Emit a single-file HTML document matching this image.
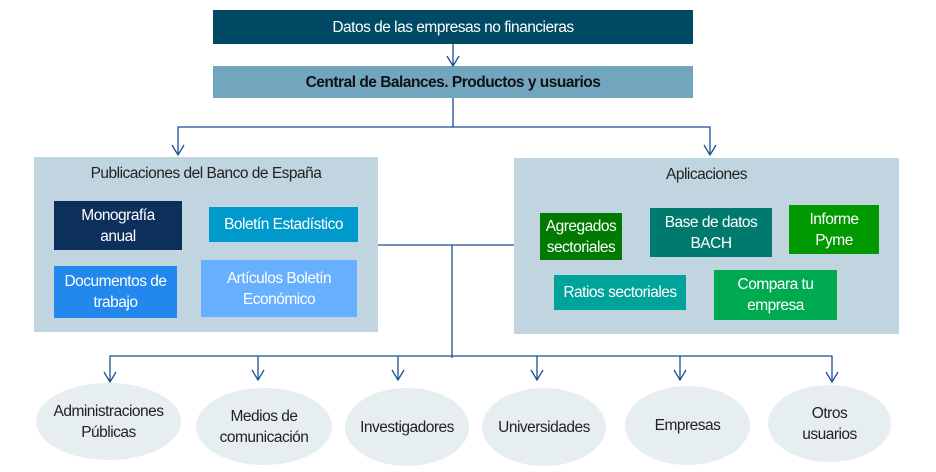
<!DOCTYPE html>
<html><head><meta charset="utf-8"><style>
body{margin:0;width:936px;height:472px;background:#fff;position:relative;overflow:hidden;font-family:"Liberation Sans",sans-serif;}
.b{position:absolute;display:flex;align-items:center;justify-content:center;text-align:center;font-size:15.5px;letter-spacing:-0.5px;line-height:21px;color:#fff;box-sizing:border-box;}
.e{position:absolute;border-radius:50%;background:#e6eef1;display:flex;align-items:center;justify-content:center;text-align:center;font-size:15.5px;letter-spacing:-0.5px;line-height:21px;color:#222;}
svg{position:absolute;left:0;top:0}
</style></head><body>
<div class="b" style="left:213px;top:10px;width:480px;height:34px;background:#004a66;">Datos de las empresas no financieras</div>
<div class="b" style="left:213px;top:66px;width:480px;height:32px;background:#72a6bf;color:#111;font-weight:bold;">Central de Balances. Productos y usuarios</div>
<div class="b" style="left:34px;top:157px;width:344px;height:175px;background:#c0d5e0;color:#222;align-items:flex-start;padding-top:6px;">Publicaciones del Banco de España</div>
<div class="b" style="left:514px;top:158px;width:385px;height:176px;background:#c0d5e0;color:#222;align-items:flex-start;padding-top:6px;">Aplicaciones</div>
<div class="b" style="left:54px;top:201px;width:128px;height:49px;background:#0d2f5c;">Monografía<br>anual</div>
<div class="b" style="left:209px;top:207px;width:149px;height:35px;background:#0099cc;">Boletín Estadístico</div>
<div class="b" style="left:54px;top:266px;width:123px;height:52px;background:#2288ee;">Documentos de<br>trabajo</div>
<div class="b" style="left:201px;top:260px;width:156px;height:57px;background:#66b0ff;">Artículos Boletín<br>Económico</div>
<div class="b" style="left:540px;top:213px;width:82px;height:47px;background:#007a00;">Agregados<br>sectoriales</div>
<div class="b" style="left:650px;top:208px;width:122px;height:49px;background:#007a6e;">Base de datos<br>BACH</div>
<div class="b" style="left:789px;top:205px;width:90px;height:49px;background:#009900;">Informe<br>Pyme</div>
<div class="b" style="left:554px;top:275px;width:132px;height:35px;background:#00a39a;">Ratios sectoriales</div>
<div class="b" style="left:714px;top:270px;width:123px;height:50px;background:#00aa50;">Compara tu<br>empresa</div>
<svg width="936" height="472" fill="none" stroke="#1d4f91" stroke-width="1.3">
<path d="M453 44V66M447 56L453 66L459 56"/>
<path d="M453 98V127M178 155V127H710V155M172 145L178 155L184 145M704 145L710 155L716 145"/>
<path d="M378 245H514M452 245V358"/>
<path d="M110 382V356H832V382"/>
<path d="M258 356V380M398 356V380M537 356V380M680 356V380"/>
<g><path d="M104 372L110 382L116 372"/><path d="M252 370L258 380L264 370"/><path d="M392 370L398 380L404 370"/><path d="M531 370L537 380L543 370"/><path d="M674 370L680 380L686 370"/><path d="M826 372L832 382L838 372"/></g>
</svg>
<div class="e" style="left:36px;top:383px;width:145px;height:77px;">Administraciones<br>Públicas</div>
<div class="e" style="left:196px;top:388px;width:136px;height:77px;">Medios de<br>comunicación</div>
<div class="e" style="left:345px;top:388px;width:124px;height:78px;">Investigadores</div>
<div class="e" style="left:482px;top:388px;width:124px;height:78px;">Universidades</div>
<div class="e" style="left:625px;top:386px;width:125px;height:79px;">Empresas</div>
<div class="e" style="left:768px;top:385px;width:123px;height:77px;">Otros<br>usuarios</div>
</body></html>
